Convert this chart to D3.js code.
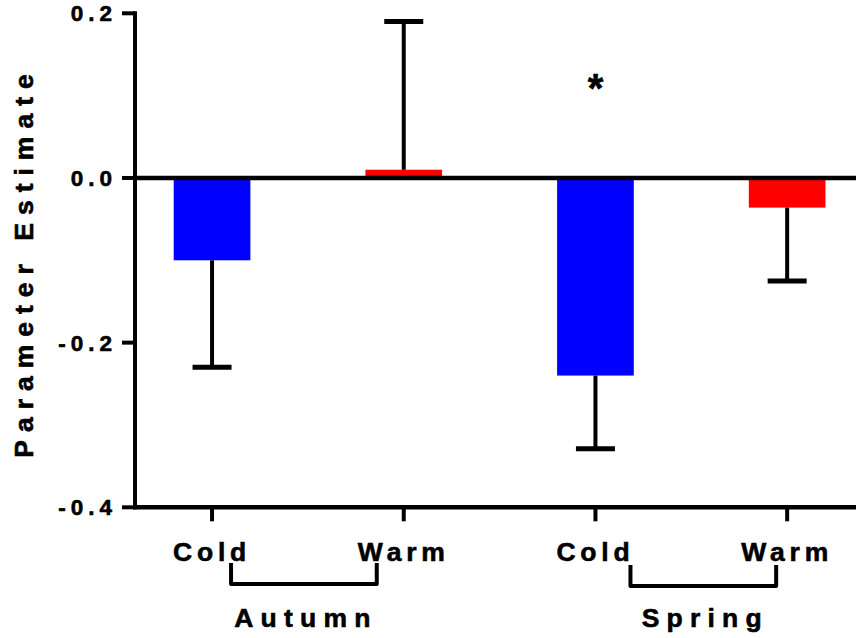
<!DOCTYPE html>
<html><head><meta charset="utf-8">
<script src="https://cdn.jsdelivr.net/npm/d3@7"></script>
<style>body{margin:0;background:#fff}svg{display:block}text{font-family:"Liberation Sans",Arial,sans-serif;font-weight:bold;fill:#000;stroke:#000;stroke-width:0.6px}</style>
</head><body>
<svg id="c" width="856" height="638"></svg>
<script>
const categories = ["Autumn Cold", "Autumn Warm", "Spring Cold", "Spring Warm"];
const catLabels = ["Cold", "Warm", "Cold", "Warm"];
const values = [-0.10, 0.01, -0.24, -0.036];
const errors = [0.13, 0.18, 0.089, 0.089];
const barColors = ["#0000ff", "#ff0000", "#0000ff", "#ff0000"];
const yTicks = [-0.4, -0.2, 0.0, 0.2];
const groups = ["Autumn", "Spring"];
const groupMembers = [[0, 1], [2, 3]];
const significant = [false, false, true, false];

const svg = d3.select("#c");
const axisX = 135, W = 856;
const y = d3.scaleLinear().domain([-0.4, 0.2]).range([507.3, 13.3]);
const x = d3.scaleBand().domain(categories).range([116.2, 883]).paddingInner(0.6).paddingOuter(0.3);
const bw = x.bandwidth();
const cx = c => x(c) + bw / 2;

// bars
svg.selectAll("rect.bar").data(categories).join("rect")
  .attr("x", c => x(c)).attr("width", bw)
  .attr("y", (c, i) => y(Math.max(0, values[i])))
  .attr("height", (c, i) => Math.abs(y(values[i]) - y(0)))
  .attr("fill", (c, i) => barColors[i]);

// error bars
const capW = 39;
categories.forEach((c, i) => {
  const v = values[i];
  const end = v >= 0 ? v + errors[i] : v - errors[i];
  svg.append("line").attr("x1", cx(c)).attr("x2", cx(c)).attr("y1", y(v)).attr("y2", y(end))
    .attr("stroke", "#000").attr("stroke-width", 4);
  svg.append("line").attr("x1", cx(c) - capW / 2).attr("x2", cx(c) + capW / 2).attr("y1", y(end)).attr("y2", y(end))
    .attr("stroke", "#000").attr("stroke-width", 5);
  if (significant[i]) {
    svg.append("text").attr("x", cx(c)).attr("y", y(0.1) + 6).attr("text-anchor", "middle")
      .attr("font-size", 40).text("*");
  }
});

// zero line
svg.append("line").attr("x1", axisX).attr("x2", W).attr("y1", y(0)).attr("y2", y(0))
  .attr("stroke", "#000").attr("stroke-width", 4.5);

// y axis
svg.append("line").attr("x1", axisX).attr("x2", axisX).attr("y1", y(0.2) - 2).attr("y2", y(-0.4) + 2)
  .attr("stroke", "#000").attr("stroke-width", 4);
yTicks.forEach(t => {
  svg.append("line").attr("x1", axisX - 13).attr("x2", axisX).attr("y1", y(t)).attr("y2", y(t))
    .attr("stroke", "#000").attr("stroke-width", 4);
  svg.append("text").attr("x", 117).attr("y", y(t) + 8).attr("text-anchor", "end")
    .attr("font-size", 22.5).attr("letter-spacing", 5).text(d3.format(".1f")(t).replace("−", "-"));
});

// x axis
svg.append("line").attr("x1", axisX - 2).attr("x2", W).attr("y1", y(-0.4)).attr("y2", y(-0.4))
  .attr("stroke", "#000").attr("stroke-width", 4.5);
categories.forEach((c, i) => {
  svg.append("line").attr("x1", cx(c)).attr("x2", cx(c)).attr("y1", y(-0.4)).attr("y2", y(-0.4) + 14)
    .attr("stroke", "#000").attr("stroke-width", 4);
  svg.append("text").attr("x", cx(c)).attr("y", 561).attr("text-anchor", "middle")
    .attr("font-size", 26.5).attr("letter-spacing", 4.8).text(catLabels[i]);
});

// group brackets
const bracketInset = [[19, 27], [35, 11]];
groups.forEach((g, gi) => {
  const [a, b] = groupMembers[gi];
  const l = cx(categories[a]) + bracketInset[gi][0];
  const r = cx(categories[b]) - bracketInset[gi][1];
  const top = 563 + gi * 2, bot = 584 + gi * 2;
  svg.append("path").attr("d", `M${l},${top}V${bot}H${r}V${top}`)
    .attr("fill", "none").attr("stroke", "#000").attr("stroke-width", 4).attr("stroke-linejoin", "round");
  svg.append("text").attr("x", (l + r) / 2 + 2).attr("y", 627).attr("text-anchor", "middle")
    .attr("font-size", 26.5).attr("letter-spacing", 7.2).text(g);
});

// y title
svg.append("text").attr("transform", "translate(33,262) rotate(-90)").attr("text-anchor", "middle")
  .attr("font-size", 26.5).attr("letter-spacing", 8).text("Parameter\u00a0Estimate");
</script>
</body></html>
